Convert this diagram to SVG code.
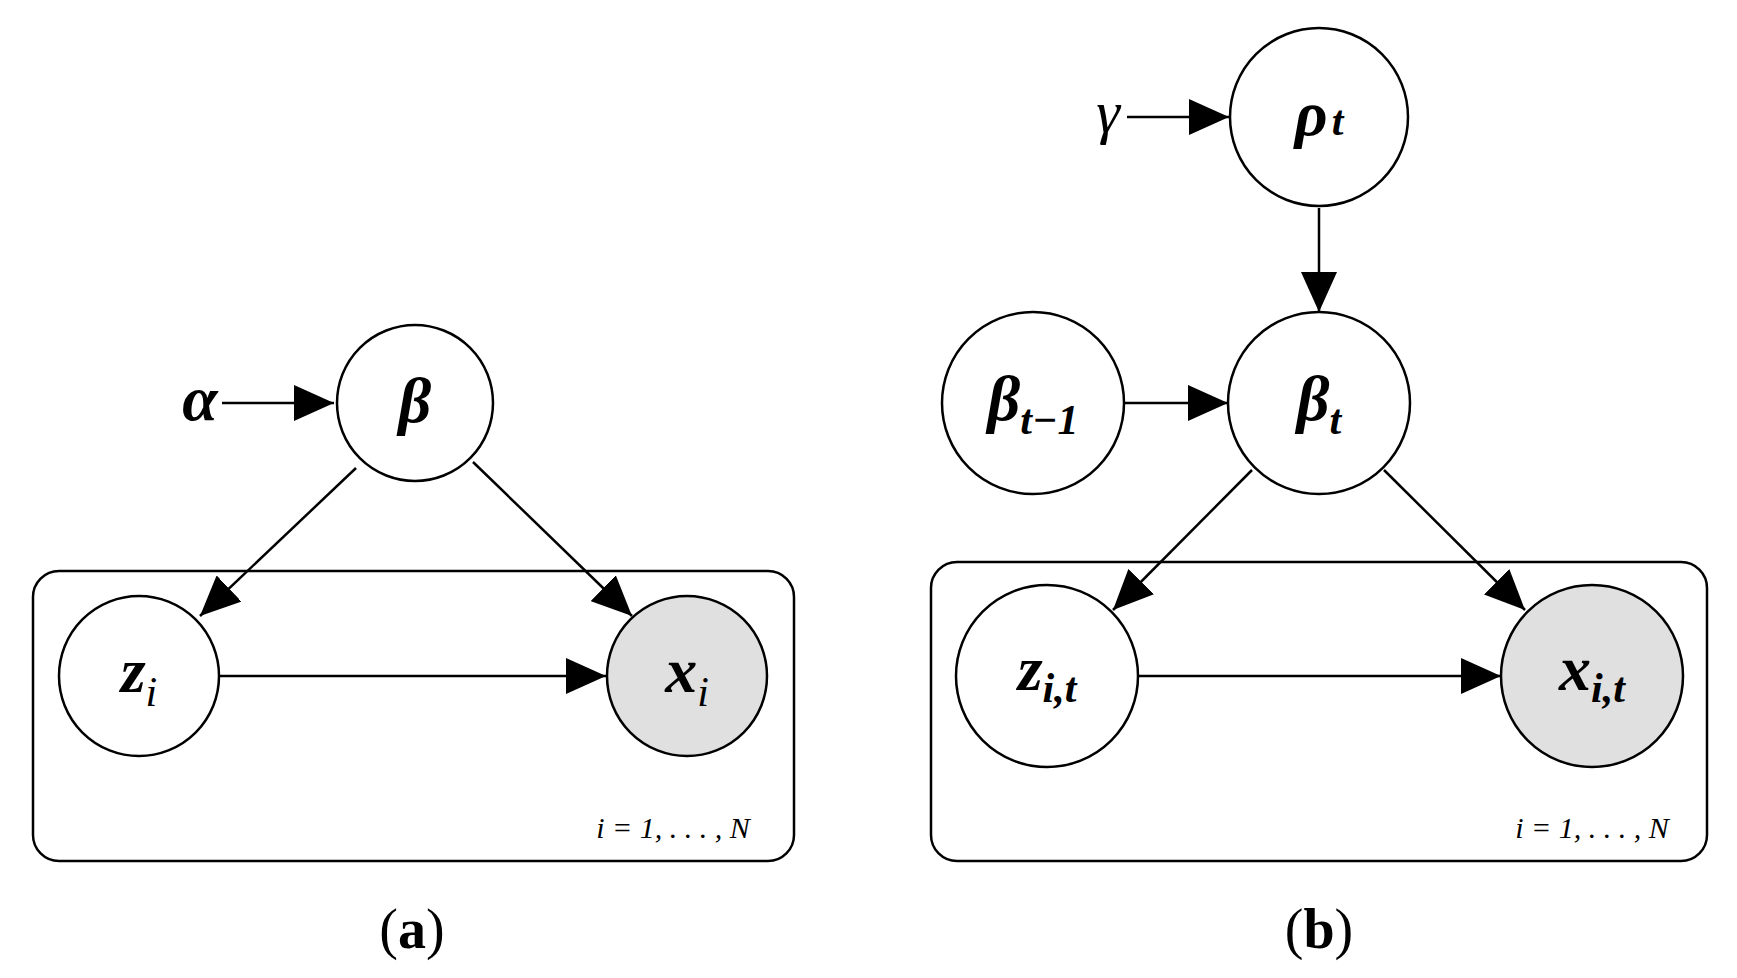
<svg xmlns="http://www.w3.org/2000/svg" width="1737" height="978" viewBox="0 0 1737 978">
<style>
.n{fill:#fff;stroke:#000;stroke-width:2.5}
.o{fill:#e0e0e0;stroke:#000;stroke-width:2.5}
.p{fill:none;stroke:#000;stroke-width:2.5}
.e{stroke:#000;stroke-width:2.5;fill:none;marker-end:url(#ah)}
text{font-family:"Liberation Serif",serif;text-anchor:middle}
.v{font-style:italic;font-weight:bold;font-size:64px}
.s{font-size:42px}
.r{font-style:italic;font-size:30px}
.c{font-size:56px}
</style>
<defs><marker id="ah" markerUnits="userSpaceOnUse" markerWidth="42" markerHeight="36" refX="40" refY="18" orient="auto"><path d="M0,0L40,18L0,36z" fill="#000"/></marker></defs>
<g id="plate-a"><rect class="p" x="33" y="571" width="761" height="290" rx="26"/><text class="r" x="673" y="838">i = 1, . . . , N</text></g>
<g id="plate-b"><rect class="p" x="931" y="562" width="776" height="299" rx="26"/><text class="r" x="1592" y="838">i = 1, . . . , N</text></g>
<g id="connectors">
<line class="e" x1="222" y1="403" x2="334" y2="403"/>
<line class="e" x1="356" y1="468" x2="200" y2="616"/>
<line class="e" x1="473" y1="462" x2="632" y2="616"/>
<line class="e" x1="220" y1="676" x2="606" y2="676"/>
<line class="e" x1="1127" y1="117" x2="1229" y2="117"/>
<line class="e" x1="1319" y1="208" x2="1319" y2="312"/>
<line class="e" x1="1125" y1="403" x2="1228" y2="403"/>
<line class="e" x1="1252" y1="470" x2="1113" y2="610"/>
<line class="e" x1="1384" y1="470" x2="1525" y2="610"/>
<line class="e" x1="1138" y1="676" x2="1501" y2="676"/>
</g>
<g id="alpha"><text class="v" x="200" y="420">α</text></g>
<g id="beta"><circle class="n" cx="415" cy="403" r="78"/><text class="v" x="415" y="422">β</text></g>
<g id="z_i"><circle class="n" cx="139" cy="676" r="80"/><text class="v" x="139" y="692">z<tspan class="s" font-weight="normal" dy="14">i</tspan></text></g>
<g id="x_i"><circle class="o" cx="687" cy="676" r="80"/><text class="v" x="687" y="692">x<tspan class="s" font-weight="normal" dy="14">i</tspan></text></g>
<g id="gamma"><text x="1108" y="132" style="font-style:italic;font-size:60px">γ</text></g>
<g id="rho_t"><circle class="n" cx="1319" cy="117" r="89"/><text class="v" x="1319" y="135">ρ<tspan class="s" dx="4">t</tspan></text></g>
<g id="beta_t"><circle class="n" cx="1319" cy="403" r="91"/><text class="v" x="1319" y="420">β<tspan class="s" dy="14">t</tspan></text></g>
<g id="beta_t-1"><circle class="n" cx="1033" cy="403" r="91"/><text class="v" x="1033" y="420">β<tspan class="s" dy="14">t−1</tspan></text></g>
<g id="z_it"><circle class="n" cx="1047" cy="676" r="91"/><text class="v" x="1047" y="690">z<tspan class="s" dy="12">i,t</tspan></text></g>
<g id="x_it"><circle class="o" cx="1592" cy="676" r="91"/><text class="v" x="1592" y="690">x<tspan class="s" dy="12">i,t</tspan></text></g>
<g id="caption-a"><text class="c" x="412" y="948">(<tspan font-weight="bold">a</tspan>)</text></g>
<g id="caption-b"><text class="c" x="1319" y="948">(<tspan font-weight="bold">b</tspan>)</text></g>
</svg>
